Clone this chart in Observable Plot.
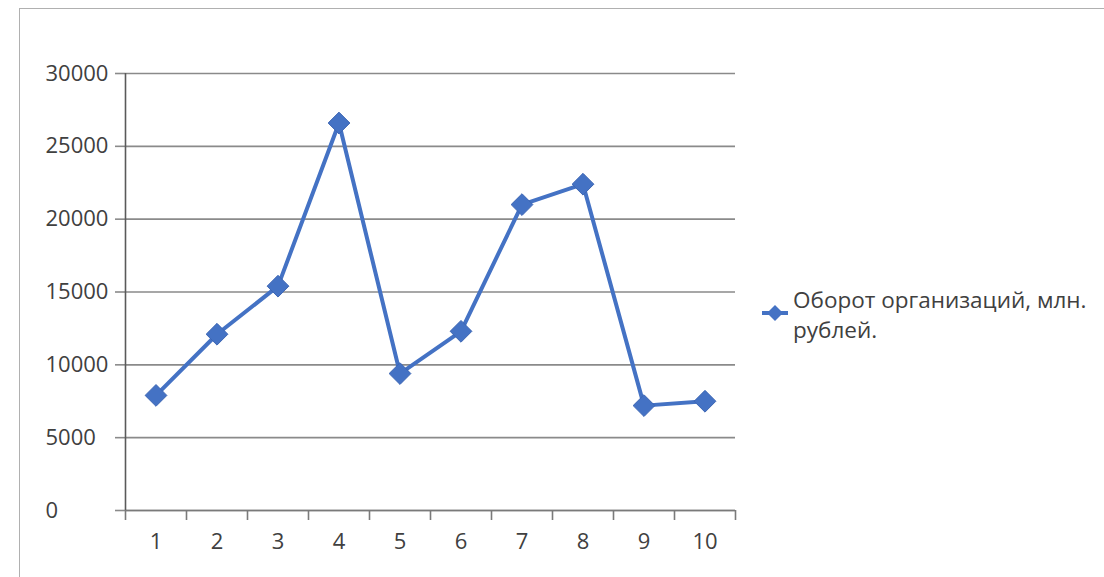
<!DOCTYPE html>
<html>
<head>
<meta charset="utf-8">
<script src="https://cdn.jsdelivr.net/npm/d3@7"></script>
<script src="https://cdn.jsdelivr.net/npm/@observablehq/plot@0.6"></script>
<style>
  html, body { margin: 0; padding: 0; background: #fff; }
  #wrap { position: relative; width: 1104px; height: 577px; overflow: hidden; font-family: "Open Sans", "Noto Sans", sans-serif; }
  #frame { position: absolute; left: 19px; top: 8px; width: 1200px; height: 700px; border: 1.5px solid #b0b0b0; box-sizing: border-box; }
  #chart { position: absolute; left: 0; top: 0; }
  #legend { position: absolute; left: 760px; top: 285px; display: flex; align-items: flex-start; color: #404040; font-size: 22.5px; line-height: 30px; }
  #legend svg { margin-top: 18px; margin-right: 3px; flex: none; }
</style>
</head>
<body>
<div id="wrap">
  <div id="frame"></div>
  <div id="chart"></div>
  <div id="legend"></div>
</div>
<script>
const categories = [1, 2, 3, 4, 5, 6, 7, 8, 9, 10];
const turnover = [7900, 12100, 15400, 26600, 9400, 12300, 21000, 22400, 7200, 7500];
const yTicks = [0, 5000, 10000, 15000, 20000, 25000, 30000];
const seriesName = "Оборот организаций, млн. рублей.";

const data = categories.map((c, i) => ({ x: c, y: turnover[i] }));
const boundaries = d3.range(categories.length + 1).map(i => categories[0] - 0.5 + i);

const lineColor = "#4472c4";

const chart = Plot.plot({
  width: 1104,
  height: 577,
  marginLeft: 125,
  marginRight: 369,
  marginTop: 73,
  marginBottom: 67,
  style: { fontFamily: "'Open Sans', 'Noto Sans', sans-serif", fontSize: "22px", color: "#404040", background: "transparent" },
  x: { type: "linear", domain: [boundaries[0], boundaries[boundaries.length - 1]] },
  y: { domain: [0, 30000] },
  marks: [
    Plot.gridY(yTicks, { stroke: "#8a8a8a", strokeOpacity: 1, strokeWidth: 1.6 }),
    Plot.axisY({ ticks: yTicks, tickSize: 10, stroke: "#8a8a8a", strokeWidth: 1.6, label: null, tickFormat: () => "" }),
    Plot.axisY({ ticks: yTicks, tickSize: 0, tickPadding: 80, textAnchor: "start", label: null, tickFormat: d => String(d), fill: "#404040" }),
    Plot.axisX({ ticks: boundaries, tickSize: 10, tickFormat: () => "", stroke: "#7a7a7a", strokeWidth: 1.6, label: null }),
    Plot.axisX({ ticks: categories, tickSize: 0, tickPadding: 23, tickFormat: d => String(d), label: null, fill: "#404040" }),
    Plot.ruleY([0], { stroke: "#7a7a7a", strokeWidth: 1.6 }),
    Plot.ruleX([boundaries[0]], { stroke: "#5a5a5a", strokeWidth: 1.6 }),
    Plot.line(data, { x: "x", y: "y", stroke: lineColor, strokeWidth: 4 }),
    Plot.dot(data, { x: "x", y: "y", symbol: "diamond2", r: 9.8, fill: lineColor, stroke: "#3d66b4", strokeWidth: 1 })
  ]
});
document.getElementById("chart").appendChild(chart);

// Legend (HTML beside the plot)
const legend = document.getElementById("legend");
const sw = d3.create("svg").attr("width", 30).attr("height", 20);
sw.append("line").attr("x1", 2).attr("x2", 28).attr("y1", 10).attr("y2", 10).attr("stroke", lineColor).attr("stroke-width", 4);
sw.append("path").attr("d", "M15,2L23,10L15,18L7,10Z").attr("fill", lineColor);
legend.appendChild(sw.node());
const txt = document.createElement("div");
txt.style.width = "315px";
txt.textContent = seriesName;
legend.appendChild(txt);
</script>
</body>
</html>
